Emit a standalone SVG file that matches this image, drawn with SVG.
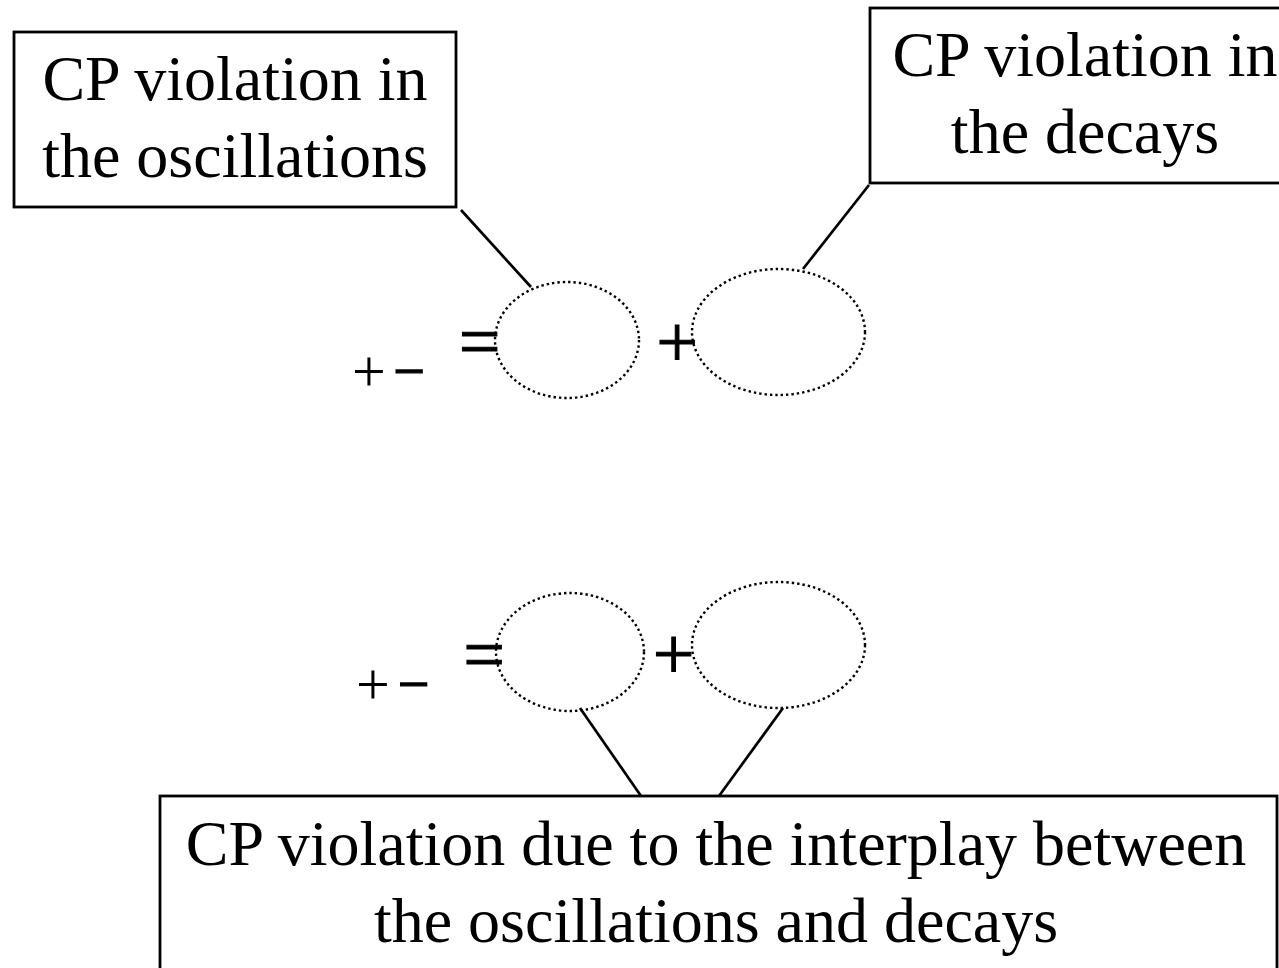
<svg xmlns="http://www.w3.org/2000/svg" width="1279" height="968" viewBox="0 0 1279 968">
<style>
.box{fill:#fff;stroke:#000;stroke-width:2.8}
.lbl{font-family:"Liberation Serif","Times New Roman",serif;font-size:64px;fill:#000;text-anchor:middle}
.sym{font-family:"Liberation Serif","Times New Roman",serif;fill:#000;text-anchor:middle}
.big{font-size:74px;stroke:#000;stroke-width:1}
.small{font-size:56px}
.splus{font-size:60px}
.minus{stroke:#000;stroke-width:1.3}
.dot{fill:none;stroke:#000;stroke-width:2.4;stroke-dasharray:2.4 3}
.conn line{stroke:#000;stroke-width:2.7}
</style>
<rect width="1279" height="968" fill="#fff"/>
<g id="box-oscillations">
<rect class="box" x="14" y="32" width="442" height="175"/>
<text class="lbl" x="235" y="100">CP violation in</text>
<text class="lbl" x="235" y="177">the oscillations</text>
</g>
<g id="box-decays">
<rect class="box" x="870" y="8" width="430" height="175"/>
<text class="lbl" x="1085" y="76">CP violation in</text>
<text class="lbl" x="1085" y="153">the decays</text>
</g>
<g id="box-interplay">
<rect class="box" x="160" y="796" width="1117" height="200"/>
<text class="lbl" x="716" y="865">CP violation due to the interplay between</text>
<text class="lbl" x="716" y="942">the oscillations and decays</text>
</g>
<g id="equation-top">
<text class="sym splus" x="369" y="391">+</text>
<text class="sym small minus" x="409" y="390">−</text>
<text class="sym big" x="479.5" y="366">=</text>
<ellipse id="ellipse-top-1" class="dot" cx="567" cy="340" rx="72" ry="58"/>
<text class="sym big" x="677" y="367">+</text>
<ellipse id="ellipse-top-2" class="dot" cx="778.5" cy="332" rx="86.5" ry="63"/>
</g>
<g id="equation-bottom">
<text class="sym splus" x="373" y="704">+</text>
<text class="sym small minus" x="413.5" y="703">−</text>
<text class="sym big" x="484" y="679">=</text>
<ellipse id="ellipse-bottom-1" class="dot" cx="570" cy="652" rx="74" ry="59"/>
<text class="sym big" x="673.5" y="679">+</text>
<ellipse id="ellipse-bottom-2" class="dot" cx="778.5" cy="645" rx="86.5" ry="63"/>
</g>
<g id="connectors" class="conn">
<line x1="461" y1="210" x2="531" y2="287"/>
<line x1="869" y1="185" x2="803" y2="269"/>
<line x1="580" y1="708" x2="641" y2="796"/>
<line x1="783" y1="708" x2="719" y2="796"/>
</g>
</svg>
